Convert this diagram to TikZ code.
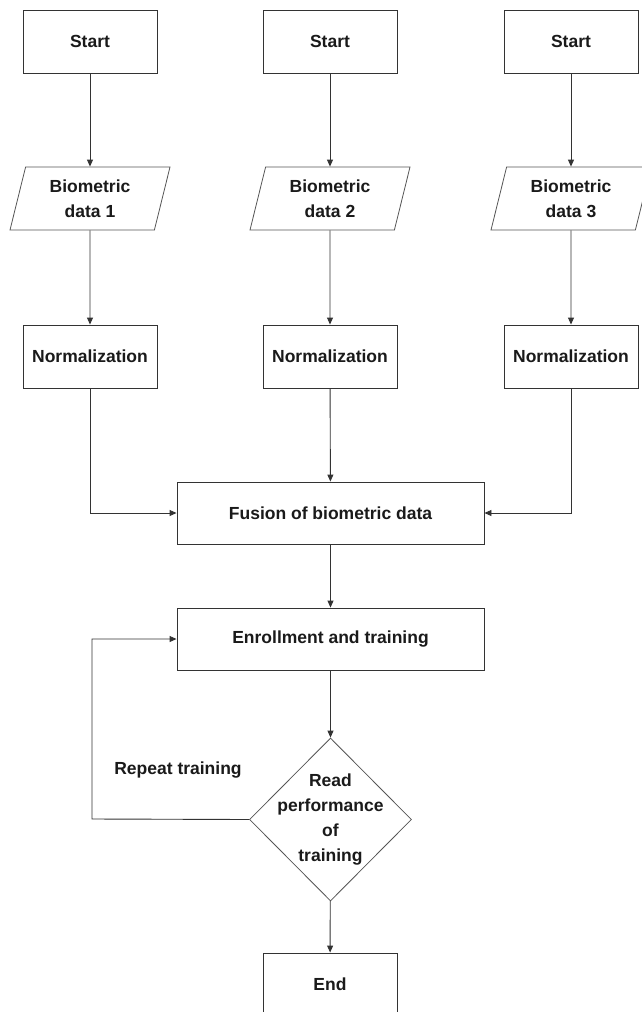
\documentclass[tikz,border=0pt]{standalone}
\usepackage{fontspec}
\setmainfont{Liberation Sans}
\usetikzlibrary{shapes.geometric,arrows.meta}
\definecolor{linec}{HTML}{333333}
\definecolor{thinc}{HTML}{555555}
\definecolor{txtc}{HTML}{1A1A1A}
\begin{document}
\begin{tikzpicture}[x=1pt,y=-1pt,
  every node/.style={font=\fontsize{17.5}{25}\selectfont\bfseries, text=txtc},
  procbox/.style={draw=linec, line width=0.9pt, rectangle, minimum width=134pt, minimum height=63pt, inner sep=0pt, align=center},
  widebox/.style={procbox, minimum width=307pt, minimum height=62pt},
  databox/.style={draw=thinc, line width=0.8pt, trapezium, trapezium left angle=67.6, trapezium right angle=112.4, trapezium stretches body, minimum width=160pt, minimum height=63pt, inner sep=0pt, align=center},
  decbox/.style={draw=thinc, line width=0.8pt, diamond, minimum width=162pt, minimum height=163pt, inner sep=-10pt, align=center},
  conn/.style={draw=linec, line width=0.9pt, -{Triangle[length=7pt,width=6pt]}},
  plainline/.style={draw=linec, line width=0.9pt}]
\useasboundingbox (0,0) rectangle (641,1012);
\fill[white] (0,0) rectangle (641,1012);

\node[procbox] (s1) at (90,41.5) {Start};
\node[procbox] (s2) at (330,41.5) {Start};
\node[procbox] (s3) at (571,41.5) {Start};

\node[databox] (b1) at (90,198.5) {Biometric\\data 1};
\node[databox] (b2) at (330,198.5) {Biometric\\data 2};
\node[databox] (b3) at (571,198.5) {Biometric\\data 3};

\node[procbox] (n1) at (90,356.5) {Normalization};
\node[procbox] (n2) at (330,356.5) {Normalization};
\node[procbox] (n3) at (571,356.5) {Normalization};

\node[widebox] (fus) at (330.5,513) {Fusion of biometric data};
\node[widebox] (enr) at (330.5,639) {Enrollment and training};
\node[decbox] (dec) at (330.5,819.5) {Read\\performance\\of\\training};
\node[procbox] (end) at (330,984.5) {End};
\node (rep) at (178,770) {Repeat training};
\coordinate (loopc) at (92,819);

\draw[conn] (s1) -- (b1);
\draw[conn] (s2) -- (b2);
\draw[conn] (s3) -- (b3);
\draw[conn] (b1) -- (n1);
\draw[conn] (b2) -- (n2);
\draw[conn] (b3) -- (n3);
\draw[conn] (n1.south) |- (fus.west);
\draw[conn] (n2) -- (fus);
\draw[conn] (n3.south) |- (fus.east);
\draw[conn] (fus) -- (enr);
\draw[conn] (enr) -- (dec);
\draw[conn] (dec.west) -- (loopc) |- (enr.west);
\draw[conn] (dec) -- (end);
\end{tikzpicture}
\end{document}
